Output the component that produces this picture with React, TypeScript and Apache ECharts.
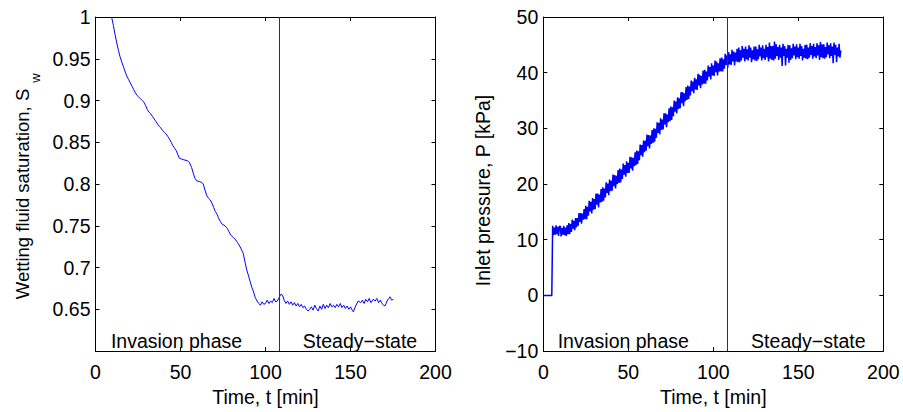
import React, { useEffect, useRef } from "react";
import * as echarts from "echarts";

// ---------- data ----------
const X_MIN = 0;
const X_MAX = 200;
const X_INTERVAL = 50;

const SW_MIN = 0.6;
const SW_MAX = 1;
const SW_INTERVAL = 0.05;

const P_MIN = -10;
const P_MAX = 50;
const P_INTERVAL = 10;

const PHASE_BOUNDARY = 108; // min
const PHASE_LABELS = ["Invasion phase", "Steady−state"];

// Wetting fluid saturation vs time: [t (min), Sw]
const SW_POINTS: [number, number][] = [
  [9.5, 1.0], [10.5, 0.99], [11.5, 0.979], [12.5, 0.969], [13.5, 0.96], [14.5, 0.952],
  [15.5, 0.946], [16.5, 0.94], [17.5, 0.934], [18.5, 0.929], [19.5, 0.925], [20.5, 0.921],
  [21.5, 0.917], [22.5, 0.913], [23.5, 0.909], [24.5, 0.906], [25.5, 0.904], [26.5, 0.902],
  [27.5, 0.9], [28.5, 0.898], [29.5, 0.894], [30.5, 0.889], [31.5, 0.886], [32.5, 0.884],
  [33.5, 0.881], [34.5, 0.878], [35.5, 0.875], [36.5, 0.872], [37.5, 0.869], [38.5, 0.867],
  [39.5, 0.864], [40.5, 0.862], [41.5, 0.86], [42.5, 0.857], [43.5, 0.854], [44.5, 0.85],
  [45.5, 0.846], [46.5, 0.843], [47.5, 0.84], [48.5, 0.835], [49.3, 0.831], [50.5, 0.83],
  [52, 0.829], [54, 0.828], [55.2, 0.826], [56.5, 0.82], [57.5, 0.813], [58.5, 0.807],
  [59.5, 0.804], [61, 0.803], [62.5, 0.802], [63.4, 0.8], [64.5, 0.792], [65.5, 0.786],
  [66.5, 0.783], [67.5, 0.781], [68.5, 0.777], [69.5, 0.772], [70.5, 0.767], [71.5, 0.764],
  [72.2, 0.76], [73.5, 0.755], [74.5, 0.752], [76.2, 0.75], [77.5, 0.747], [78.5, 0.743],
  [79.5, 0.739], [81.1, 0.736], [82.5, 0.733], [83.5, 0.73], [84.5, 0.727], [85.5, 0.723],
  [86.9, 0.717], [88, 0.706], [89, 0.697], [89.9, 0.691], [91, 0.683], [92, 0.676],
  [92.8, 0.672], [94, 0.664], [95, 0.66], [96, 0.657], [97, 0.655], [98, 0.659],
  [99, 0.656], [100, 0.657], [101, 0.661], [102, 0.657], [103, 0.66], [104, 0.658],
  [105, 0.663], [106, 0.659], [107, 0.66], [108, 0.664], [109, 0.668], [110, 0.667],
  [111, 0.661], [112, 0.657], [113, 0.66], [114, 0.656], [115, 0.659], [116, 0.655],
  [117, 0.658], [118, 0.654], [119, 0.657], [120, 0.653], [121, 0.656], [122, 0.652],
  [123, 0.654], [124, 0.65], [125, 0.648], [126, 0.65], [127, 0.653], [128, 0.649],
  [129, 0.655], [130, 0.651], [131, 0.648], [132, 0.654], [133, 0.65], [134, 0.656],
  [135, 0.651], [136, 0.655], [137, 0.652], [138, 0.657], [139, 0.653], [140, 0.655],
  [141, 0.652], [142, 0.656], [143, 0.653], [144, 0.657], [145, 0.652], [146, 0.655],
  [147, 0.651], [148, 0.654], [149, 0.65], [150, 0.653], [151, 0.649], [151.7, 0.647],
  [153, 0.654], [154.6, 0.66], [156, 0.658], [157, 0.661], [158, 0.657], [159, 0.662],
  [160, 0.659], [161, 0.663], [162, 0.658], [163.4, 0.662], [164.5, 0.66], [165.5, 0.663],
  [166.5, 0.658], [167.5, 0.661], [168.5, 0.657], [169.5, 0.655], [170.3, 0.654], [171.5, 0.66],
  [172.5, 0.663], [173.2, 0.665], [174.2, 0.661], [175.2, 0.662],
];

// Inlet pressure (kPa), sampled every P_STEP minutes from P_START
const P_START = 0;
const P_STEP = 0.5;
const PRESSURE: number[] = [
  0, 0, 0, 0, 0, 0, 0, 0, 0, 0,
  0, 12.5, 10.8, 12.2, 10.9, 12.6, 11.0, 12.3, 10.7, 12.4,
  12.4, 10.6, 12.1, 10.9, 12.5, 10.8, 12.2, 10.7, 12.6, 11.0,
  13.0, 11.0, 12.8, 11.4, 13.6, 12.0, 13.4, 11.7, 13.9, 12.2,
  13.9, 12.5, 14.8, 13.2, 14.8, 12.9, 14.7, 13.6, 15.5, 13.7,
  16.1, 13.7, 15.9, 14.3, 17.0, 15.1, 16.8, 14.7, 17.5, 15.4,
  17.3, 15.5, 18.3, 16.3, 18.3, 15.8, 18.1, 16.7, 19.1, 16.8,
  19.4, 17.0, 19.2, 17.6, 20.3, 18.4, 20.1, 18.0, 20.8, 18.7,
  20.6, 18.8, 21.7, 19.6, 21.6, 19.2, 21.5, 20.0, 22.5, 20.2,
  22.8, 20.3, 22.6, 20.9, 23.7, 21.7, 23.4, 21.3, 24.1, 22.0,
  23.8, 22.0, 24.9, 22.8, 24.8, 22.4, 24.7, 23.2, 25.7, 23.4,
  26.0, 23.6, 25.9, 24.3, 27.1, 25.2, 27.0, 24.9, 27.8, 25.7,
  27.8, 26.0, 28.9, 26.8, 28.8, 26.4, 28.7, 27.2, 29.7, 27.4,
  30.0, 27.6, 29.9, 28.3, 31.1, 29.2, 31.0, 28.9, 31.8, 29.7,
  31.6, 29.8, 32.7, 30.7, 32.7, 30.2, 32.5, 31.1, 33.6, 31.3,
  33.9, 31.5, 33.8, 32.2, 35.0, 33.0, 34.8, 32.7, 35.6, 33.5,
  35.4, 33.6, 36.5, 34.5, 36.5, 34.0, 36.3, 34.9, 37.4, 35.1,
  37.7, 35.3, 37.5, 35.9, 38.6, 36.7, 38.4, 36.3, 39.1, 37.0,
  38.8, 36.9, 39.8, 37.7, 39.6, 37.2, 39.4, 37.9, 40.4, 38.0,
  40.5, 38.0, 40.2, 38.6, 41.3, 39.3, 41.0, 38.8, 41.7, 39.5,
  41.3, 39.4, 42.2, 40.1, 42.0, 39.5, 41.7, 40.2, 42.6, 40.2,
  42.7, 40.2, 42.4, 40.7, 43.4, 41.4, 43.1, 40.9, 43.7, 41.5,
  43.3, 41.4, 44.1, 42.0, 43.8, 41.3, 43.6, 42.0, 44.3, 41.9,
  44.5, 41.9, 44.0, 42.2, 44.8, 42.7, 44.3, 42.0, 44.7, 42.4,
  44.2, 42.2, 44.9, 42.7, 44.5, 41.9, 44.0, 42.4, 44.7, 42.2,
  44.7, 42.1, 44.2, 42.4, 45.0, 42.9, 44.5, 42.2, 44.9, 42.6,
  44.3, 42.3, 45.0, 42.8, 44.6, 42.0, 45.4, 42.5, 44.8, 42.3,
  44.8, 42.2, 45.6, 42.5, 45.1, 43.0, 44.6, 42.3, 45.0, 42.7,
  44.5, 41.2, 45.2, 43.0, 44.8, 41.3, 44.3, 42.7, 45.0, 41.8,
  44.9, 42.3, 44.4, 42.6, 45.2, 43.1, 44.7, 42.4, 45.1, 42.8,
  44.5, 42.5, 45.2, 43.0, 44.8, 42.2, 44.3, 42.7, 45.0, 42.5,
  45.0, 42.4, 44.5, 42.7, 45.3, 43.2, 44.8, 42.5, 45.2, 42.9,
  44.6, 42.6, 45.3, 43.1, 44.9, 42.3, 45.5, 42.8, 45.1, 42.6,
  45.1, 42.5, 44.6, 42.8, 45.4, 43.3, 44.9, 42.6, 45.3, 43.0,
  44.7, 41.7, 45.4, 43.2, 45.0, 41.9, 44.5, 42.9, 45.2, 42.7,
  44.0,
];

// ---------- styling ----------
const FONT = "'Liberation Sans', Arial, Helvetica, sans-serif";
const FS = 19.5;
const BLUE = "#0000ff";

const GRID_TOP = 17;
const GRID_H = 340.7;
const GRID_W = 340;
const GRID_LEFTS = [95.5, 543.3];

function xAxes(gridIndex: number, withName: boolean) {
  const base = {
    gridIndex,
    type: "value",
    min: X_MIN,
    max: X_MAX,
    interval: X_INTERVAL,
    splitLine: { show: false },
    axisLine: { show: true, onZero: false, lineStyle: { color: "#000", width: 1 } },
    axisTick: { show: true, inside: true, length: 4, lineStyle: { color: "#000", width: 1 } },
  };
  return [
    {
      ...base,
      position: "bottom",
      axisLabel: { color: "#000", fontSize: FS, fontFamily: FONT, margin: 11 },
      name: withName ? "Time, t [min]" : "",
      nameLocation: "middle",
      nameGap: 32,
      nameTextStyle: { color: "#000", fontSize: FS, fontFamily: FONT },
    },
    { ...base, position: "top", axisLabel: { show: false } },
  ];
}

function yAxes(gridIndex: number, min: number, max: number, interval: number, fmt: (v: number) => string) {
  const base = {
    gridIndex,
    type: "value",
    min,
    max,
    interval,
    splitLine: { show: false },
    axisLine: { show: true, onZero: false, lineStyle: { color: "#000", width: 1 } },
    axisTick: { show: true, inside: true, length: 4, lineStyle: { color: "#000", width: 1 } },
  };
  return [
    {
      ...base,
      position: "left",
      axisLabel: { color: "#000", fontSize: FS, fontFamily: FONT, margin: 5, formatter: fmt },
    },
    { ...base, position: "right", axisLabel: { show: false } },
  ];
}

const boundaryMarkLine = {
  silent: true,
  symbol: ["none", "none"],
  label: { show: false },
  lineStyle: { color: "#333", width: 1, type: "solid" },
  emphasis: { disabled: true },
  data: [{ xAxis: PHASE_BOUNDARY }],
};

function phaseText(x: number, y: number, text: string) {
  return {
    type: "text",
    x,
    y,
    silent: true,
    style: {
      text,
      fill: "#000",
      font: `${FS}px ${FONT}`,
      align: "center",
      verticalAlign: "middle",
    },
  };
}

export default function App() {
  const ref = useRef<HTMLDivElement>(null);

  useEffect(() => {
    if (!ref.current) return;
    const chart = echarts.init(ref.current, null, { renderer: "svg" });

    const pressureData = PRESSURE.map((p, i) => [P_START + i * P_STEP, p]);

    const option: any = {
      animation: false,
      backgroundColor: "#fff",
      grid: GRID_LEFTS.map((left) => ({
        left,
        top: GRID_TOP,
        width: GRID_W,
        height: GRID_H,
        containLabel: false,
      })),
      xAxis: [...xAxes(0, true), ...xAxes(1, true)],
      yAxis: [
        ...yAxes(0, SW_MIN, SW_MAX, SW_INTERVAL, (v: number) =>
          v < SW_MIN + 0.01 ? "" : String(parseFloat(v.toFixed(2)))
        ),
        ...yAxes(1, P_MIN, P_MAX, P_INTERVAL, (v: number) => String(v).replace("-", "−")),
      ],
      series: [
        {
          type: "line",
          xAxisIndex: 0,
          yAxisIndex: 0,
          data: SW_POINTS,
          showSymbol: false,
          symbol: "none",
          lineStyle: { color: BLUE, width: 1 },
          silent: true,
          markLine: boundaryMarkLine,
        },
        {
          type: "line",
          xAxisIndex: 2,
          yAxisIndex: 2,
          data: pressureData,
          showSymbol: false,
          symbol: "none",
          lineStyle: { color: BLUE, width: 1.5 },
          silent: true,
          markLine: boundaryMarkLine,
        },
      ],
      graphic: [
        phaseText(176.5, 341, PHASE_LABELS[0]),
        phaseText(360, 341, PHASE_LABELS[1]),
        phaseText(623.3, 341, PHASE_LABELS[0]),
        phaseText(808.3, 341, PHASE_LABELS[1]),
        {
          type: "text",
          x: 22,
          y: 194,
          rotation: Math.PI / 2,
          silent: true,
          style: {
            text: "Wetting fluid saturation, S",
            fill: "#000",
            font: `18.5px ${FONT}`,
            align: "center",
            verticalAlign: "middle",
          },
        },
        {
          type: "text",
          x: 35.5,
          y: 78,
          rotation: Math.PI / 2,
          silent: true,
          style: {
            text: "w",
            fill: "#000",
            font: `13px ${FONT}`,
            align: "center",
            verticalAlign: "middle",
          },
        },
        {
          type: "text",
          x: 483,
          y: 190.5,
          rotation: Math.PI / 2,
          silent: true,
          style: {
            text: "Inlet pressure, P [kPa]",
            fill: "#000",
            font: `${FS}px ${FONT}`,
            align: "center",
            verticalAlign: "middle",
          },
        },
      ],
    };

    chart.setOption(option);
    return () => chart.dispose();
  }, []);

  return (
    <div
      ref={ref}
      style={{ position: "fixed", left: 0, top: 0, width: 903, height: 412, background: "#fff" }}
    />
  );
}
